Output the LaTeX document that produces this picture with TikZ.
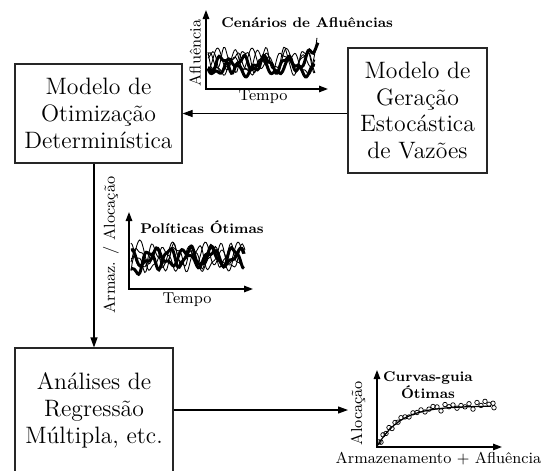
\documentclass[tikz,border=0pt]{standalone}
\usepackage{fontspec}
\usepackage{tikz}
\usetikzlibrary{arrows.meta, positioning, calc}

\begin{document}
\begin{tikzpicture}[
  caixa/.style={draw=black!85, line width=0.6pt, align=center, inner sep=2pt, font=\fontsize{13.5}{15.3}\selectfont},
  rotulo/.style={font=\fontsize{9}{10}\selectfont, inner sep=0pt},
  titulo/.style={font=\fontsize{8}{9.8}\selectfont\bfseries, inner sep=0pt, align=center},
  seta/.style={-{Triangle[length=2mm, width=1.4mm]}, line width=0.6pt},
  eixo/.style={{Triangle[length=1.8mm, width=1.3mm]}-{Triangle[length=1.8mm, width=1.3mm]}, line width=0.8pt},
  onda/.style={line width=0.5pt, smooth, samples=90},
  ondagrossa/.style={line width=1.7pt, smooth, samples=90}
]
  \useasboundingbox (0,0) rectangle (10.88,9.4);

  \node[caixa, minimum width=3.34cm, minimum height=1.98cm] (otim) at (1.97,7.13) {Modelo de\\Otimização\\Determinística};
  \node[caixa, minimum width=2.78cm, minimum height=2.5cm] (geracao) at (8.35,7.19) {Modelo de\\Geração\\Estocástica\\de Vazões};
  \node[caixa, minimum width=3.16cm, minimum height=2.48cm] (regressao) at (1.88,1.2) {Análises de\\Regressão\\Múltipla, etc.};
  \coordinate (curvas) at (6.96,1.2);

  \draw[seta] (geracao.west |- otim.east) -- (otim.east);
  \draw[seta] (otim.south -| regressao.north) -- (regressao.north);
  \draw[seta] (regressao.east) -- (curvas);

  \draw[eixo] (4.12,9.2) |- (6.56,7.62);
  \node[rotulo, rotate=90] (afluencia) at (3.9,8.34) {Afluência};
  \node[rotulo, anchor=base] (tempo1) at (5.26,7.4) {Tempo};
  \node[titulo, anchor=base west] (cenarios) at (4.42,8.84) {Cenários de Afluências};
  \draw[onda] plot[domain=4.16:6.3] (\x,{8.2+0.2*sin(900*\x)+0.07*sin(2100*\x+50)});
  \draw[onda] plot[domain=4.16:6.3] (\x,{8.15+0.2*sin(760*\x+120)+0.06*sin(1700*\x)});
  \draw[onda] plot[domain=4.16:6.34] (\x,{8.18+0.17*sin(1050*\x+200)+0.09*sin(500*\x+80)+0.4*exp(-(6.34-\x)*10)});
  \draw[onda] plot[domain=4.16:6.3] (\x,{8.12+0.19*sin(640*\x+300)+0.05*sin(1900*\x+10)});
  \draw[ondagrossa] plot[domain=4.16:6.36] (\x,{8.12+0.14*sin(820*\x+60)+0.05*sin(2000*\x)+0.5*exp(-(6.36-\x)*9)});
  \draw[ondagrossa] plot[domain=4.16:6.3] (\x,{8.05+0.13*sin(600*\x+200)+0.06*sin(1500*\x+90)});

  \draw[eixo] (2.58,5.16) |- (5.06,3.62);
  \node[rotulo, rotate=90] (armaz) at (2.22,4.5) {Armaz. / Alocação};
  \node[rotulo, anchor=base] (tempo2) at (3.74,3.34) {Tempo};
  \node[titulo, anchor=base west] (politicas) at (2.8,4.74) {Políticas Ótimas};
  \draw[onda] plot[domain=2.62:4.85] (\x,{4.28+0.2*sin(950*\x+30)+0.06*sin(2200*\x)-0.3*exp(-(\x-2.62)*5)});
  \draw[onda] plot[domain=2.62:4.9] (\x,{4.25+0.22*sin(800*\x+160)+0.07*sin(1800*\x+40)});
  \draw[onda] plot[domain=2.62:4.85] (\x,{4.3+0.18*sin(1100*\x+250)+0.08*sin(550*\x)+0.1*exp(-(\x-2.62)*5)});
  \draw[onda] plot[domain=2.62:4.9] (\x,{4.22+0.2*sin(700*\x+320)+0.05*sin(2000*\x+100)});
  \draw[ondagrossa] plot[domain=2.62:4.88] (\x,{4.26+0.18*sin(850*\x+90)+0.05*sin(1900*\x)-0.25*exp(-(\x-2.62)*4)});
  \draw[ondagrossa] plot[domain=2.62:4.88] (\x,{4.24+0.14*sin(650*\x+210)+0.06*sin(1500*\x+60)});

  \draw[eixo] (7.54,2.0) |- (10.04,0.46);
  \node[rotulo, rotate=90] (alocacao) at (7.16,1.14) {Alocação};
  \node[rotulo, anchor=base] (armazafl) at (8.77,0.14) {Armazenamento + Afluência};
  \node[titulo] (curvasguia) at (8.56,1.7) {Curvas-guia\\Ótimas};
  \draw[line width=0.7pt] plot[domain=7.56:9.82, samples=50, smooth] (\x,{0.5+0.78*(1-exp(-(\x-7.56)*2.2))});
  \foreach \x/\d in {7.58/0.03, 7.62/-0.04, 7.66/0.05, 7.72/0.0, 7.78/0.05, 7.84/-0.03, 7.9/0.04, 7.96/0.0, 8.02/0.05, 8.1/0.02, 8.18/-0.02, 8.26/0.03, 8.34/0.01, 8.42/0.04, 8.5/-0.02, 8.58/0.02, 8.66/0.06, 8.74/0.04, 8.82/-0.05, 8.9/0.07, 8.98/0.02, 9.06/0.05, 9.14/-0.02, 9.22/0.03, 9.3/0.0, 9.38/0.06, 9.46/-0.05, 9.54/0.08, 9.62/0.02, 9.7/0.1, 9.78/0.04, 9.86/0.06, 9.88/-0.03}
    \draw[line width=0.4pt] (\x,{0.5+0.78*(1-exp(-(\x-7.56)*2.2))+\d}) circle (0.045);
\end{tikzpicture}
\end{document}
